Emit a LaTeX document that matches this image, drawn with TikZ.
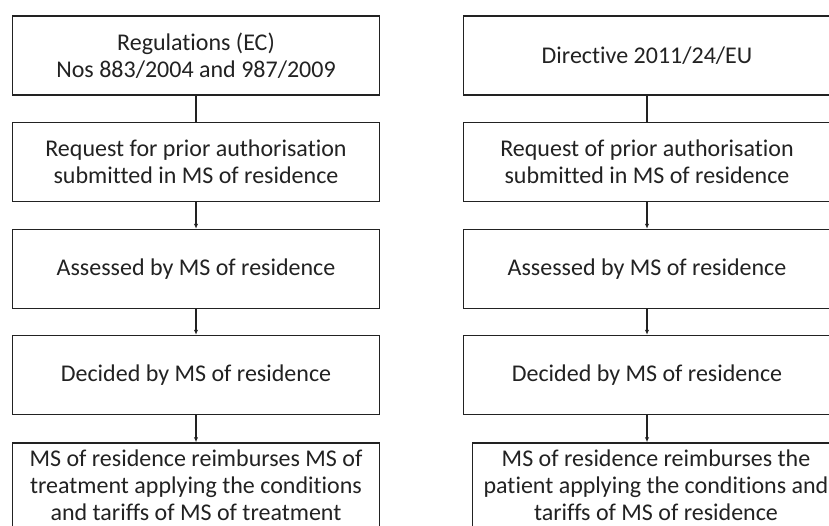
\documentclass[tikz,border=0pt]{standalone}
\usepackage{fontspec}
\setmainfont[Ligatures={NoCommon}]{Carlito}
\usetikzlibrary{arrows.meta}
\definecolor{ink}{HTML}{222222}
\tikzset{
  flowbox/.style={draw=ink, line width=1.5pt, text=ink, align=center,
    minimum width=367pt, minimum height=79pt, inner sep=0pt,
    font=\fontsize{24}{27}\selectfont},
  lastbox/.style={flowbox, minimum height=85pt},
  link/.style={draw=ink, line width=1.5pt},
  arrowlink/.style={link, -{Latex[length=5pt,width=4.5pt]}}
}
\begin{document}
\begin{tikzpicture}[x=1pt,y=-1pt]
\clip (0,0) rectangle (829,525);
\fill[white] (0,0) rectangle (829,525);
% left column
\node[flowbox] (l1) at (196,55.5) {Regulations (EC)\\Nos 883/2004 and 987/2009};
\node[flowbox] (l2) at (196,162) {Request for prior authorisation\\submitted in MS of residence};
\node[flowbox] (l3) at (196,269) {Assessed by MS of residence};
\node[flowbox] (l4) at (196,375) {Decided by MS of residence};
\node[lastbox] (l5) at (196,485.5) {MS of residence reimburses MS of\\treatment applying the conditions\\and tariffs of MS of treatment};
% right column
\node[flowbox] (r1) at (647,55.5) {Directive 2011/24/EU};
\node[flowbox] (r2) at (647,162) {Request of prior authorisation\\submitted in MS of residence};
\node[flowbox] (r3) at (647,269) {Assessed by MS of residence};
\node[flowbox] (r4) at (647,375) {Decided by MS of residence};
\node[lastbox] (r5) at (656,485.5) {MS of residence reimburses the\\patient applying the conditions and\\tariffs of MS of residence};
% connectors
\draw[link] (l1) -- (l2);
\draw[arrowlink] (l2) -- (l3);
\draw[arrowlink] (l3) -- (l4);
\draw[arrowlink] (l4) -- (l5);
\draw[link] (r1) -- (r2);
\draw[arrowlink] (r2) -- (r3);
\draw[arrowlink] (r3) -- (r4);
\draw[arrowlink] (r4.south) -- (r4.south |- r5.north);
\end{tikzpicture}
\end{document}
